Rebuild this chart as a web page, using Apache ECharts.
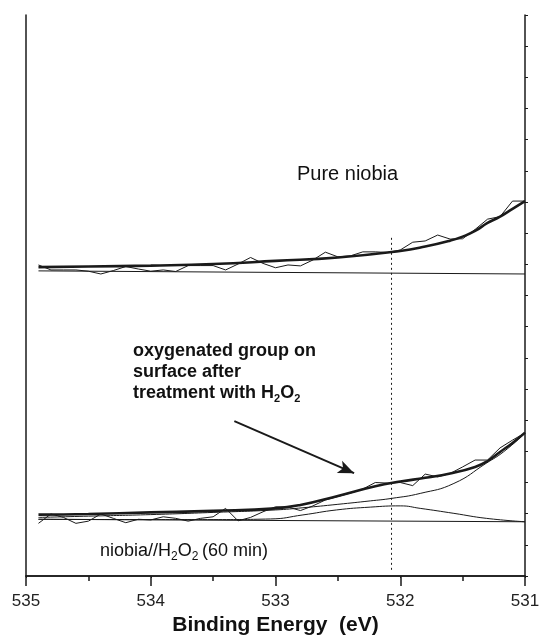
<!DOCTYPE html>
<html>
<head>
<meta charset="utf-8">
<script src="https://cdn.jsdelivr.net/npm/echarts@6/dist/echarts.min.js"></script>
<style>
  html, body { margin: 0; padding: 0; background: #ffffff; }
  #chart { width: 539px; height: 637px; }
</style>
</head>
<body>
<div id="chart"></div>
<script>
// O 1s region, binding energy in eV (axis runs high -> low)
const xTicks = [535, 534, 533, 532, 531];

// Pure niobia: measured spectrum, 0.1 eV steps
const pureEnergy = [534.9, 534.8, 534.7, 534.6, 534.5, 534.4, 534.3, 534.2, 534.1, 534.0,
                    533.9, 533.8, 533.7, 533.6, 533.5, 533.4, 533.3, 533.2, 533.1, 533.0,
                    532.9, 532.8, 532.7, 532.6, 532.5, 532.4, 532.3, 532.2, 532.1, 532.0,
                    531.9, 531.8, 531.7, 531.6, 531.5, 531.4, 531.3, 531.2, 531.1, 531.0];
const pureRaw = [9.98, 9.82, 9.82, 9.82, 9.78, 9.69, 9.80, 9.93, 9.85, 9.78,
                 9.82, 9.77, 9.96, 9.96, 9.96, 9.82, 10.01, 10.22, 10.03, 9.89,
                 9.98, 9.95, 10.14, 10.39, 10.24, 10.27, 10.40, 10.40, 10.38, 10.46,
                 10.71, 10.75, 10.94, 10.81, 10.82, 11.12, 11.45, 11.53, 12.03, 12.03];
// Pure niobia: fitted envelope and linear background
const pureFitEnergy = [534.9, 534.5, 534.0, 533.5, 533.0, 532.5, 532.0, 531.8, 531.6, 531.5, 531.4, 531.3, 531.2, 531.1, 531.0];
const pureFit = [9.91, 9.93, 9.96, 10.01, 10.11, 10.22, 10.43, 10.57, 10.76, 10.89, 11.07, 11.33, 11.53, 11.78, 12.03];
const pureBgEnergy = [534.9, 531.0];
const pureBg = [9.79, 9.69];

// niobia//H2O2 (60 min): measured spectrum, 0.1 eV steps
const treatedEnergy = pureEnergy;
const treatedRaw = [1.69, 1.99, 1.88, 1.69, 1.76, 1.99, 1.85, 1.71, 1.82, 1.80,
                    1.90, 1.85, 1.76, 1.85, 1.90, 2.17, 1.77, 1.88, 2.06, 2.22,
                    2.21, 2.10, 2.25, 2.44, 2.55, 2.66, 2.79, 3.00, 2.98, 3.00,
                    2.90, 3.27, 3.18, 3.29, 3.50, 3.72, 3.72, 4.11, 4.36, 4.59];
// niobia//H2O2: envelope, lattice-oxygen component, surface-group component, background
const treatedFitEnergy = [534.9, 534.5, 534.0, 533.5, 533.0, 532.8, 532.5, 532.2, 532.0, 531.8, 531.6, 531.4, 531.3, 531.2, 531.1, 531.0];
const treatedFit = [1.97, 1.99, 2.04, 2.09, 2.17, 2.28, 2.57, 2.88, 3.03, 3.15, 3.29, 3.50, 3.69, 3.98, 4.27, 4.60];
const latticeEnergy = [534.9, 534.5, 534.0, 533.5, 533.0, 532.78, 532.5, 532.24, 532.07, 531.84, 531.57, 531.31, 531.17, 531.0];
const lattice = [1.88, 1.92, 1.97, 2.04, 2.12, 2.19, 2.30, 2.41, 2.49, 2.65, 2.97, 3.62, 3.99, 4.58];
const surfaceEnergy = [534.9, 534.0, 533.5, 533.04, 532.78, 532.51, 532.24, 532.0, 531.84, 531.57, 531.31, 531.0];
const surface = [1.82, 1.81, 1.81, 1.83, 1.96, 2.12, 2.21, 2.25, 2.17, 2.01, 1.85, 1.74];
const treatedBgEnergy = [534.9, 531.0];
const treatedBg = [1.82, 1.74];

// position of the surface-group component and the arrow pointing at it
const markerEnergy = 532.07;
const markerSpan = [10.85, 0.16];
const arrowFrom = [533.33, 4.97];
const arrowTo = [532.37, 3.30];

const pairs = (xs, ys) => xs.map((x, i) => [x, ys[i]]);

const INK = '#1a1a1a';
const FONT = '"Liberation Sans", Arial, Helvetica, sans-serif';

function curve(name, xs, ys, width, smooth) {
  return {
    name: name, type: 'line', data: pairs(xs, ys),
    symbol: 'none', smooth: smooth, silent: true,
    lineStyle: { color: INK, width: width },
    z: width > 2 ? 4 : 3
  };
}

const chart = echarts.init(document.getElementById('chart'), null, { renderer: 'canvas' });

chart.setOption({
  animation: false,
  backgroundColor: '#ffffff',
  grid: { left: 26, right: 14, top: 15, bottom: 61, containLabel: false, outerBoundsMode: 'none' },
  xAxis: [
    {
      type: 'value', position: 'bottom', inverse: true,
      min: xTicks[xTicks.length - 1], max: xTicks[0], interval: 1,
      axisLine: { show: true, lineStyle: { color: INK, width: 1.5 } },
      axisTick: { show: true, inside: false, length: 10, lineStyle: { color: INK, width: 1.5 } },
      minorTick: { show: true, splitNumber: 2, length: 5, lineStyle: { color: INK, width: 1.5 } },
      axisLabel: { show: true, color: '#222', fontSize: 17, fontFamily: FONT, margin: 17 },
      splitLine: { show: false },
      name: 'Binding Energy  (eV)', nameLocation: 'middle', nameGap: 35,
      nameTextStyle: { color: '#111', fontSize: 21, fontWeight: 'bold', fontFamily: FONT }
    },
    {
      type: 'value', position: 'top', inverse: true,
      min: xTicks[xTicks.length - 1], max: xTicks[0], interval: 1,
      axisLine: { show: true, lineStyle: { color: INK, width: 1.5 } },
      axisTick: { show: true, inside: true, length: 2, lineStyle: { color: INK, width: 1 } },
      axisLabel: { show: false },
      splitLine: { show: false }
    }
  ],
  yAxis: [
    {
      type: 'value', position: 'left', min: 0, max: 18, interval: 1,
      axisLine: { show: true, lineStyle: { color: INK, width: 1.5 } },
      axisTick: { show: false },
      axisLabel: { show: false },
      splitLine: { show: false }
    },
    {
      type: 'value', position: 'right', min: 0, max: 18, interval: 1,
      axisLine: { show: true, lineStyle: { color: INK, width: 1.5 } },
      axisTick: { show: true, inside: false, length: 3, lineStyle: { color: INK, width: 1 } },
      axisLabel: { show: false },
      splitLine: { show: false }
    }
  ],
  series: [
    curve('pure background', pureBgEnergy, pureBg, 1, false),
    curve('pure raw', pureEnergy, pureRaw, 1, false),
    curve('pure envelope', pureFitEnergy, pureFit, 2.6, true),

    curve('treated background', treatedBgEnergy, treatedBg, 1, false),
    curve('surface group', surfaceEnergy, surface, 1, true),
    curve('lattice oxygen', latticeEnergy, lattice, 1, true),
    curve('treated raw', treatedEnergy, treatedRaw, 1, false),
    curve('treated envelope', treatedFitEnergy, treatedFit, 2.6, true),

    {
      name: 'marker', type: 'line', silent: true, symbol: 'none',
      data: [[markerEnergy, markerSpan[0]], [markerEnergy, markerSpan[1]]],
      lineStyle: { color: INK, width: 1, type: [2, 3] },
      markLine: {
        silent: true, symbol: ['none', 'arrow'], symbolSize: [10, 16],
        label: { show: false },
        lineStyle: { color: INK, width: 2, type: 'solid' },
        data: [[{ coord: arrowFrom }, { coord: arrowTo }]]
      }
    }
  ],
  graphic: [
    {
      type: 'text', left: 297, top: 164,
      style: { text: 'Pure niobia', fill: '#111', font: '20px ' + FONT }
    },
    {
      type: 'text', left: 133, top: 341,
      style: {
        text: 'oxygenated group on\nsurface after\ntreatment with H{s|2}O{s|2}',
        fill: '#111', font: 'bold 18px ' + FONT, lineHeight: 21,
        rich: {
          s: { fontSize: 11, fontWeight: 'bold', fontFamily: FONT, lineHeight: 3, verticalAlign: 'bottom', fill: '#111' }
        }
      }
    },
    {
      type: 'text', left: 100, top: 540,
      style: {
        text: 'niobia//H{s|2}O{s|2}\u2009(60 min)',
        fill: '#111', font: '18px ' + FONT, lineHeight: 23,
        rich: {
          s: { fontSize: 12, fontFamily: FONT, lineHeight: 4, verticalAlign: 'bottom', fill: '#111' }
        }
      }
    }
  ]
});
</script>
</body>
</html>
